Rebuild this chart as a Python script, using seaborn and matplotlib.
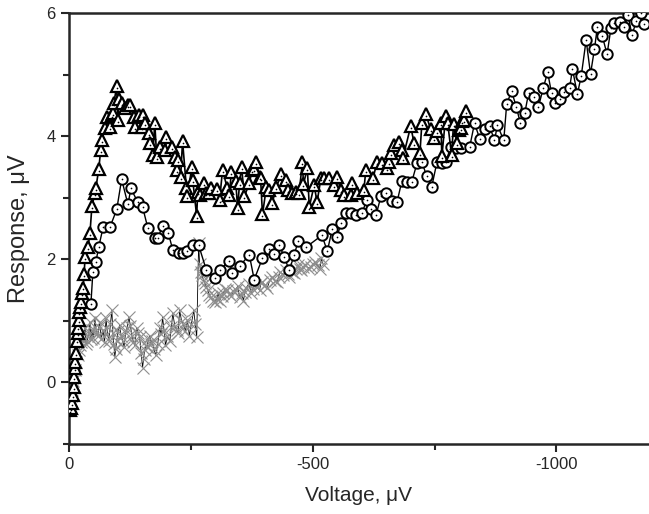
import matplotlib
matplotlib.use("Agg")
import matplotlib.pyplot as plt
import seaborn as sns

# values (voltage in uV, response in uV)
tri_x = [-2, -4, -6, -8, -10, -10, -12, -12, -14, -16, -18, -18, -20, -20, -22, -25, -27, -29, -31, -33,
         -39, -43, -47, -53, -55, -61, -65, -67, -74, -78, -84, -88, -90, -92, -98, -100, -102, -108, -115,
         -121, -125, -133, -135, -143, -149, -151, -155, -164, -166, -172, -176, -180, -186, -198, -200, -211,
         -217, -221, -223, -229, -233, -241, -243, -252, -254, -262, -264, -268, -278, -282, -288, -292, -303,
         -309, -315, -325, -329, -333, -342, -346, -350, -354, -360, -370, -376, -380, -384, -391, -393, -397,
         -405, -411, -417, -425, -436, -446, -450, -458, -466, -472, -479, -481, -489, -493, -503, -509, -517,
         -524, -534, -544, -550, -558, -564, -579, -581, -591, -605, -609, -624, -632, -642, -652, -656, -661,
         -667, -677, -683, -685, -701, -708, -720, -724, -732, -742, -748, -755, -763, -765, -773, -777, -785,
         -789, -796, -800, -804, -806, -810, -814]
tri_y = [-0.45, -0.42, -0.33, -0.21, -0.08, 0.08, 0.23, 0.33, 0.47, 0.68, 0.80, 0.89, 1.01, 1.14, 1.22, 1.30,
         1.45, 1.54, 1.76, 2.03, 2.20, 2.42, 2.86, 3.07, 3.15, 3.46, 3.77, 3.93, 4.13, 4.31, 4.15, 4.34, 4.37,
         4.54, 4.81, 4.26, 4.60, 4.54, 4.46, 4.50, 4.50, 4.31, 4.15, 4.34, 4.15, 4.34, 4.21, 4.05, 3.89, 3.69,
         4.21, 3.66, 3.82, 3.77, 3.98, 3.82, 3.66, 3.45, 3.61, 3.33, 3.92, 3.15, 3.02, 3.50, 3.28, 2.70, 3.09,
         3.04, 3.24, 3.07, 3.07, 3.15, 3.14, 2.96, 3.45, 3.15, 3.04, 3.41, 3.27, 2.83, 3.24, 3.50, 3.02, 3.24,
         3.45, 3.46, 3.58, 3.33, 3.32, 2.73, 3.17, 3.12, 2.91, 3.17, 3.38, 3.28, 3.12, 3.07, 3.09, 3.07, 3.58,
         3.22, 3.48, 2.85, 3.20, 2.93, 3.32, 3.32, 3.32, 3.20, 3.33, 3.12, 3.04, 3.04, 3.24, 3.07, 3.12, 3.45,
         3.32, 3.58, 3.56, 3.48, 3.58, 3.72, 3.85, 3.90, 3.77, 3.64, 4.16, 3.89, 3.72, 4.21, 4.36, 4.11, 3.97,
         4.08, 4.21, 3.67, 4.33, 4.21, 3.69, 4.20, 3.89, 4.10, 4.13, 4.24, 4.26, 4.41]

circ_x = [-45, -49, -55, -61, -70, -84, -98, -108, -121, -127, -141, -151, -162, -176, -182, -192,
          -204, -213, -225, -233, -243, -254, -266, -282, -299, -309, -329, -335, -350, -370, -380, -397, -411,
          -421, -431, -442, -452, -462, -470, -487, -519, -530, -540, -550, -558, -569, -579, -589, -601, -611,
          -620, -630, -640, -650, -663, -673, -683, -693, -703, -714, -724, -734, -744, -755, -765, -773, -783,
          -793, -804, -822, -832, -843, -853, -863, -873, -879, -892, -898, -908, -918, -926, -935, -943, -955,
          -963, -973, -982, -990, -998, -1008, -1016, -1027, -1033, -1043, -1051, -1061, -1070, -1078, -1084,
          -1094, -1104, -1112, -1119, -1131, -1139, -1147, -1155, -1164, -1174, -1180]
circ_y = [1.28, 1.79, 1.95, 2.20, 2.52, 2.52, 2.81, 3.30, 2.89, 3.15, 2.93, 2.85, 2.50, 2.34,
          2.34, 2.54, 2.42, 2.15, 2.10, 2.11, 2.13, 2.23, 2.23, 1.82, 1.69, 1.82, 1.98, 1.77, 1.89, 2.07, 1.67,
          2.02, 2.16, 2.08, 2.24, 2.03, 1.82, 2.07, 2.29, 2.20, 2.39, 2.13, 2.49, 2.36, 2.59, 2.75, 2.75, 2.72,
          2.75, 2.96, 2.81, 2.72, 3.02, 3.07, 2.94, 2.93, 3.27, 3.25, 3.25, 3.56, 3.58, 3.35, 3.17, 3.58, 3.56,
          3.58, 3.82, 3.80, 3.80, 3.82, 4.21, 3.95, 4.11, 4.16, 3.93, 4.18, 3.93, 4.52, 4.73, 4.47, 4.21, 4.37,
          4.70, 4.63, 4.47, 4.78, 5.04, 4.70, 4.54, 4.60, 4.72, 4.78, 5.09, 4.68, 4.98, 5.56, 5.01, 5.41, 5.77,
          5.63, 5.33, 5.76, 5.84, 5.85, 5.77, 5.97, 5.64, 5.87, 6.0, 5.82]

cross_x = [-2, -3, -4, -5, -6, -8, -10, -12, -15, -18,
           -20, -22, -25, -27, -30, -33, -35, -37, -40, -43,
           -45, -47, -50, -53, -56, -59, -61, -63, -66, -70,
           -73, -76, -79, -82, -85, -88, -90, -92, -94, -96,
           -98, -101, -104, -107, -110, -113, -116, -119, -123, -126,
           -129, -132, -135, -139, -142, -145, -148, -151, -153, -155,
           -158, -160, -163, -166, -168, -170, -174, -178, -182, -186,
           -189, -192, -195, -198, -202, -207, -210, -213, -217, -221,
           -224, -227, -231, -235, -239, -243, -247, -251, -256, -259,
           -262, -266, -268, -270, -273, -276, -279, -282, -285, -288,
           -291, -295, -299, -303, -306, -309, -313, -317, -321, -325,
           -329, -333, -337, -342, -346, -350, -354, -358, -361, -364,
           -369, -374, -378, -381, -386, -391, -394, -397, -402, -407,
           -412, -417, -422, -427, -430, -433, -440, -446, -449, -452,
           -457, -462, -466, -470, -473, -476, -480, -485, -491, -497,
           -501, -505, -510, -515, -518, -521]
cross_y = [-0.45, -0.38, -0.30, -0.22, -0.13, 0.03, 0.12, 0.20, 0.33, 0.44,
           0.52, 0.60, 0.66, 0.73, 0.80, 0.89, 0.62, 0.68, 0.75, 0.98,
           0.70, 0.85, 0.72, 1.04, 0.82, 0.76, 0.90, 0.98, 0.70, 0.85,
           0.66, 1.04, 0.78, 0.68, 0.95, 1.17, 0.80, 0.62, 0.41, 0.55,
           0.68, 0.84, 0.93, 0.75, 0.68, 0.58, 0.80, 0.89, 1.06, 0.92,
           0.76, 0.66, 0.60, 0.89, 0.80, 0.73, 0.48, 0.24, 0.38, 0.52,
           0.60, 0.57, 0.70, 0.76, 0.62, 0.68, 0.55, 0.44, 0.62, 0.89,
           0.78, 1.06, 0.85, 0.60, 0.75, 0.68, 0.90, 1.12, 0.92, 0.85,
           0.80, 1.17, 1.00, 0.93, 0.84, 1.01, 0.76, 0.95, 1.17, 0.95,
           0.73, 2.26, 1.93, 1.80, 1.74, 1.66, 1.61, 1.55, 1.50, 1.42,
           1.38, 1.33, 1.30, 1.36, 1.45, 1.33, 1.40, 1.46, 1.52, 1.50,
           1.44, 1.41, 1.48, 1.50, 1.56, 1.38, 1.45, 1.33, 1.47, 1.54,
           1.60, 1.46, 1.52, 1.58, 1.55, 1.50, 1.62, 1.63, 1.58, 1.54,
           1.66, 1.71, 1.65, 1.63, 1.72, 1.79, 1.75, 1.82, 1.76, 1.71,
           1.80, 1.77, 1.85, 1.90, 1.84, 1.82, 1.88, 1.90, 1.86, 1.87,
           1.92, 1.95, 1.90, 1.85, 2.02, 1.93]

sns.set_style("ticks")
plt.rcParams['font.family'] = ['Liberation Sans', 'DejaVu Sans']

fig = plt.figure(figsize=(6.49, 5.14), dpi=100)
ax = fig.add_axes([0.1063, 0.1362, 0.8937, 0.8385])

# crosses (gray markers, thin black connecting line)
sns.lineplot(x=cross_x, y=cross_y, sort=False, estimator=None, ax=ax, color='black', lw=0.6,
             marker='x', markersize=8.5, markeredgecolor='#8f8f8f', markeredgewidth=0.8, zorder=2)

# circles with a dot in the middle
sns.lineplot(x=circ_x, y=circ_y, sort=False, estimator=None, ax=ax, color='black', lw=1.0,
             marker='o', markersize=7.5, markerfacecolor='white', markeredgecolor='black',
             markeredgewidth=1.4, zorder=3)
sns.scatterplot(x=circ_x, y=circ_y, ax=ax, color='black', s=1.5, linewidth=0, zorder=4)

# triangles with a dot in the middle
sns.lineplot(x=tri_x, y=tri_y, sort=False, estimator=None, ax=ax, color='black', lw=1.2,
             marker='^', markersize=8.5, markerfacecolor='white', markeredgecolor='black',
             markeredgewidth=1.6, zorder=5)
sns.scatterplot(x=tri_x, y=[v - 0.03 for v in tri_y], ax=ax, color='black', s=1.5, linewidth=0, zorder=6)

ax.set_xlim(0, -1190)
ax.set_ylim(-1, 6)
ax.set_xticks([0, -500, -1000])
ax.set_xticks([-250, -750], minor=True)
ax.set_xticklabels(['0', '-500', '-1000'])
ax.set_yticks([0, 2, 4, 6])
ax.set_yticks([-1, 1, 3, 5], minor=True)
ax.tick_params(axis='both', which='major', direction='out', length=6, width=1.5, labelsize=12)
ax.tick_params(axis='both', which='minor', direction='out', length=4, width=1.5)
for side in ['left', 'bottom', 'top']:
    ax.spines[side].set_linewidth(1.8)
ax.spines['right'].set_visible(False)

ax.set_xlabel('Voltage, \u03bcV', fontsize=15, labelpad=10)
ax.set_ylabel('Response, \u03bcV', fontsize=17, labelpad=12)

fig.savefig('out.png', dpi=100)
